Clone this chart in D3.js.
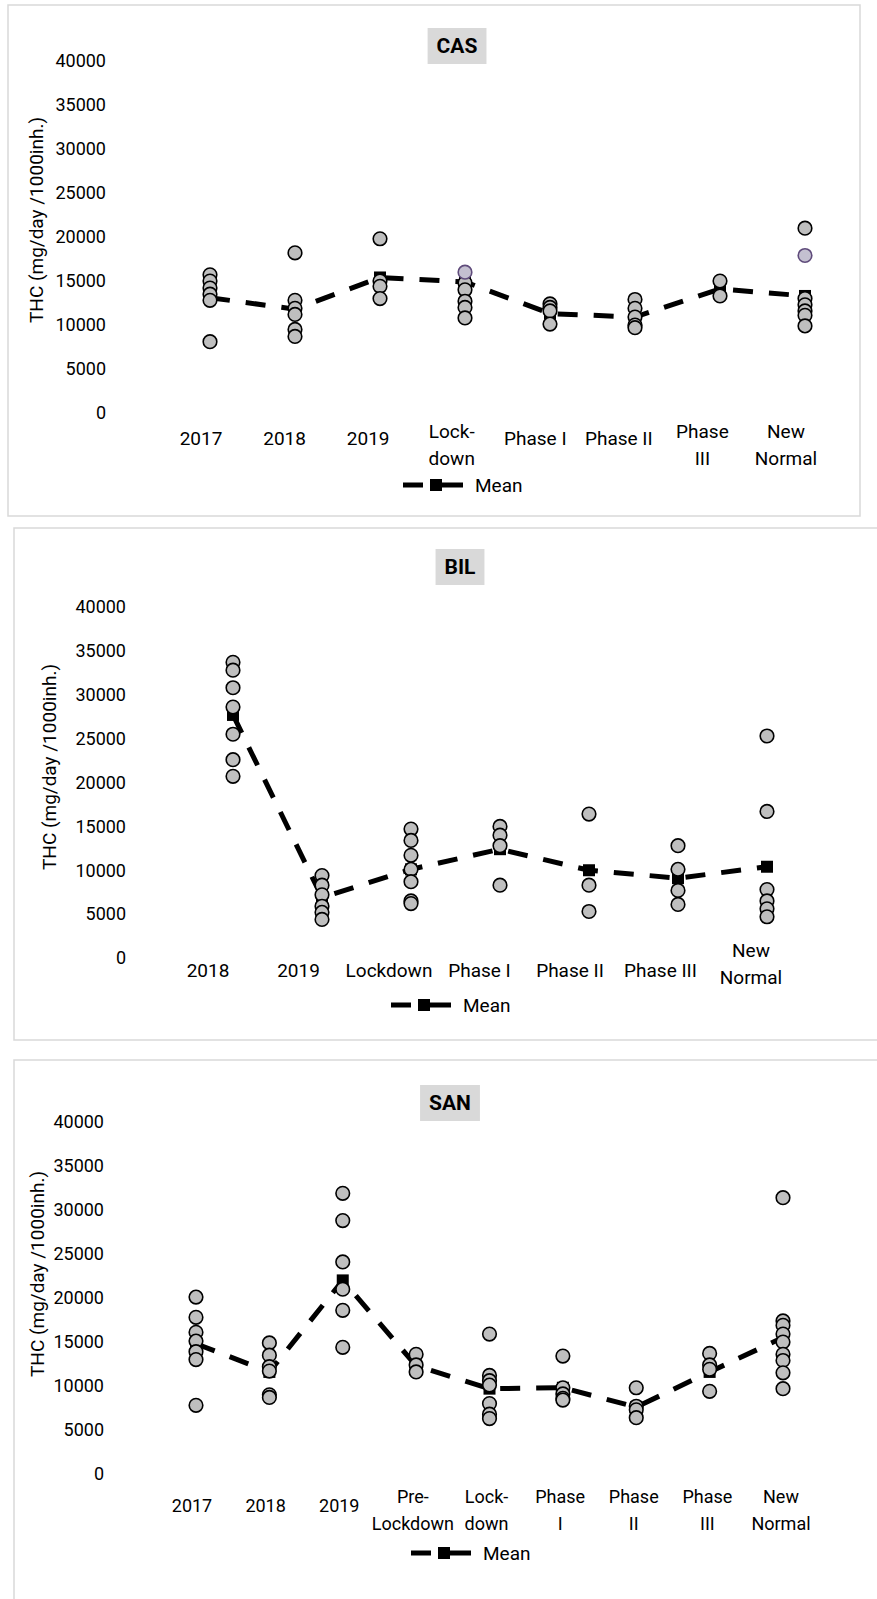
<!DOCTYPE html>
<html>
<head>
<meta charset="utf-8">
<script src="https://cdn.jsdelivr.net/npm/d3@7"></script>
<style>
  body { margin: 0; background: #fff; }
  svg { display: block; }
</style>
</head>
<body>
<script>
// Valori comuni
var yTicks = [0, 5000, 10000, 15000, 20000, 25000, 30000, 35000, 40000];
var yTitle = "THC (mg/day /1000inh.)";
var legendLabel = "Mean";

// CAS
var casCategories = [["2017"], ["2018"], ["2019"], ["Lock-", "down"], ["Phase I"], ["Phase II"], ["Phase", "III"], ["New", "Normal"]];
var casSamples = [
  [15700, 15000, 14200, 13500, 12800, 8100],
  [18200, 12800, 11900, 11200, 9500, 8700],
  [19800, 15000, 14400, 13000],
  [14800, 14000, 12700, 12000, 10800],
  [12400, 12000, 11600, 10100],
  [12900, 11900, 10900, 10000, 9700],
  [15000, 13300],
  [21000, 13000, 12300, 11600, 11100, 9900]
];
var casHighlighted = [[], [], [], [16000], [], [], [], [17900]];
var casMeans = [13100, 11800, 15400, 14900, 11300, 10900, 14100, 13300];

// BIL
var bilCategories = [["2018"], ["2019"], ["Lockdown"], ["Phase I"], ["Phase II"], ["Phase III"], ["New", "Normal"]];
var bilSamples = [
  [33700, 32800, 30800, 28600, 25500, 22600, 20700],
  [9400, 8300, 7200, 5900, 5200, 4400],
  [14700, 13400, 11700, 10100, 8700, 6500, 6200],
  [15000, 14000, 12800, 8300],
  [16400, 8300, 5300],
  [12800, 10100, 7700, 6100],
  [25300, 16700, 7800, 6500, 5600, 4700]
];
var bilHighlighted = [[], [], [], [], [], [], []];
var bilMeans = [27700, 6900, 10100, 12400, 10000, 9100, 10400];

// SAN
var sanCategories = [["2017"], ["2018"], ["2019"], ["Pre-", "Lockdown"], ["Lock-", "down"], ["Phase", "I"], ["Phase", "II"], ["Phase", "III"], ["New", "Normal"]];
var sanSamples = [
  [20100, 17800, 16100, 15100, 13900, 13000, 7800],
  [14900, 13500, 12200, 11700, 9000, 8700],
  [31900, 28800, 24100, 21000, 18600, 14400],
  [13600, 12400, 11600],
  [15900, 11200, 10600, 10100, 8000, 6800, 6300],
  [13400, 9800, 9100, 8600, 8400],
  [9800, 7700, 7300, 6400],
  [13700, 12400, 11900, 9400],
  [31400, 17400, 16900, 15900, 15000, 13600, 12900, 11500, 9700]
];
var sanHighlighted = [[], [], [], [], [], [], [], [], []];
var sanMeans = [14800, 11600, 22000, 12300, 9700, 9800, 7600, 11600, 15500];

// Impaginazione dei tre pannelli
var panels = [
  { name: "CAS", categories: casCategories, samples: casSamples, highlighted: casHighlighted, means: casMeans,
    frame: [8, 5, 852, 511], yRange: [413, 61], tickX: 106, pointRange: [210, 805], labelRange: [201, 786],
    labelY: 445, multiY: 438, labelSize: 19, title: [457, 46], yTitlePos: [36, 220], legendX: 403, legendY: 485 },
  { name: "BIL", categories: bilCategories, samples: bilSamples, highlighted: bilHighlighted, means: bilMeans,
    frame: [14, 528, 900, 512], yRange: [958, 607], tickX: 126, pointRange: [233, 767], labelRange: [208, 751],
    labelY: 977, multiY: 957, labelSize: 19, title: [460, 567], yTitlePos: [49, 767], legendX: 391, legendY: 1005 },
  { name: "SAN", categories: sanCategories, samples: sanSamples, highlighted: sanHighlighted, means: sanMeans,
    frame: [14, 1060, 900, 600], yRange: [1474, 1122], tickX: 104, pointRange: [196, 783], labelRange: [192, 781],
    labelY: 1512, multiY: 1503, labelSize: 18, title: [450, 1103], yTitlePos: [37, 1274], legendX: 411, legendY: 1553 }
];

var labelFont = "Roboto, 'Open Sans', sans-serif";

var svg = d3.select("body")
  .append("svg")
  .attr("width", 877)
  .attr("height", 1599);

panels.forEach(drawPanel);

function drawPanel(p) {
  var g = svg.append("g");

  // Cornice del grafico
  g.append("rect")
    .attr("x", p.frame[0]).attr("y", p.frame[1])
    .attr("width", p.frame[2]).attr("height", p.frame[3])
    .attr("fill", "#fff")
    .attr("stroke", "#d9d9d9")
    .attr("stroke-width", 1.5);

  var keys = p.categories.map(function (c) { return c.join(" "); });

  var y = d3.scaleLinear().domain([0, 40000]).range(p.yRange);
  var x = d3.scalePoint().domain(keys).range(p.pointRange);
  var xLabel = d3.scalePoint().domain(keys).range(p.labelRange);

  // Asse y: solo le etichette
  var axis = g.append("g")
    .attr("transform", "translate(" + p.tickX + ",0)")
    .call(d3.axisLeft(y).tickValues(yTicks).tickSize(0).tickPadding(0).tickFormat(d3.format("d")));
  axis.select(".domain").remove();
  axis.selectAll("text")
    .attr("font-family", labelFont)
    .attr("font-size", 18)
    .attr("fill", "#000");

  // Titolo asse y
  g.append("text")
    .attr("transform", "translate(" + p.yTitlePos[0] + "," + p.yTitlePos[1] + ") rotate(-90)")
    .attr("text-anchor", "middle")
    .attr("dy", "0.35em")
    .attr("font-family", labelFont)
    .attr("font-size", 19)
    .text(yTitle);

  // Etichette delle categorie
  var labels = g.selectAll(".cat")
    .data(p.categories)
    .enter()
    .append("text")
    .attr("class", "cat")
    .attr("text-anchor", "middle")
    .attr("font-family", labelFont)
    .attr("font-size", p.labelSize)
    .attr("x", function (d, i) { return xLabel(keys[i]); })
    .attr("y", function (d) { return d.length > 1 ? p.multiY : p.labelY; });

  labels.selectAll("tspan")
    .data(function (d, i) { return d.map(function (t) { return { t: t, x: xLabel(keys[i]) }; }); })
    .enter()
    .append("tspan")
    .attr("x", function (d) { return d.x; })
    .attr("dy", function (d, j) { return j === 0 ? 0 : 27; })
    .text(function (d) { return d.t; });

  // Titolo con riquadro grigio
  var titleBox = g.append("rect").attr("fill", "#d9d9d9");
  var title = g.append("text")
    .attr("x", p.title[0]).attr("y", p.title[1])
    .attr("text-anchor", "middle")
    .attr("dy", "0.35em")
    .attr("font-family", labelFont)
    .attr("font-weight", "bold")
    .attr("font-size", 21)
    .text(p.name);
  var bb = title.node().getBBox();
  titleBox
    .attr("x", bb.x - 9).attr("y", p.title[1] - 18)
    .attr("width", bb.width + 18).attr("height", 36);

  // Linea della media, tratteggiata, con marcatori quadrati
  var line = d3.line()
    .x(function (d, i) { return x(keys[i]); })
    .y(function (d) { return y(d); });

  g.append("path")
    .datum(p.means)
    .attr("d", line)
    .attr("fill", "none")
    .attr("stroke", "#000")
    .attr("stroke-width", 5)
    .attr("stroke-dasharray", "20,16");

  g.selectAll(".mean")
    .data(p.means)
    .enter()
    .append("rect")
    .attr("class", "mean")
    .attr("x", function (d, i) { return x(keys[i]) - 6; })
    .attr("y", function (d) { return y(d) - 6; })
    .attr("width", 12)
    .attr("height", 12)
    .attr("fill", "#000");

  // Punti dei singoli campioni
  var pts = [];
  p.samples.forEach(function (vals, i) {
    vals.forEach(function (v) { pts.push({ k: keys[i], v: v, hl: false }); });
  });
  p.highlighted.forEach(function (vals, i) {
    vals.forEach(function (v) { pts.push({ k: keys[i], v: v, hl: true }); });
  });

  g.selectAll(".pt")
    .data(pts)
    .enter()
    .append("circle")
    .attr("class", "pt")
    .attr("cx", function (d) { return x(d.k); })
    .attr("cy", function (d) { return y(d.v); })
    .attr("r", 6.8)
    .attr("fill", function (d) { return d.hl ? "#c4c0d0" : "#bfbfbf"; })
    .attr("stroke", function (d) { return d.hl ? "#5f4b7b" : "#000"; })
    .attr("stroke-width", 1.6);

  // Legenda
  var lg = g.append("g").attr("transform", "translate(" + p.legendX + "," + p.legendY + ")");
  lg.append("line")
    .attr("x1", 0).attr("x2", 60)
    .attr("stroke", "#000")
    .attr("stroke-width", 5)
    .attr("stroke-dasharray", "20,7,40");
  lg.append("rect")
    .attr("x", 27).attr("y", -6)
    .attr("width", 12).attr("height", 12)
    .attr("fill", "#000");
  lg.append("text")
    .attr("x", 72)
    .attr("dy", "0.35em")
    .attr("font-family", labelFont)
    .attr("font-size", 19)
    .text(legendLabel);
}
</script>
</body>
</html>
